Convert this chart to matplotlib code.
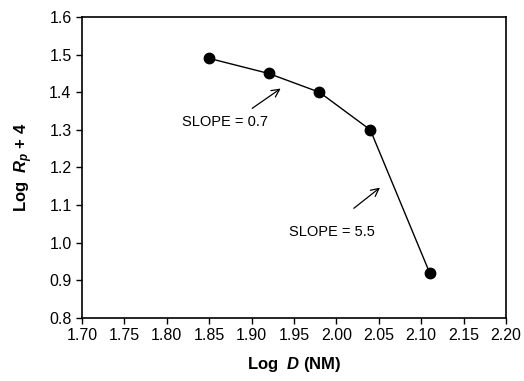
import matplotlib.pyplot as plt

plt.rcParams['font.family'] = ['Liberation Sans', 'DejaVu Sans']
plt.rcParams['mathtext.fontset'] = 'custom'
plt.rcParams['mathtext.rm'] = 'Liberation Sans:bold'
plt.rcParams['mathtext.it'] = 'Liberation Sans:italic:bold'
plt.rcParams['mathtext.bfit'] = 'Liberation Sans:italic:bold'

log_d = [1.85, 1.92, 1.98, 2.04, 2.11]
log_rp = [1.49, 1.45, 1.40, 1.30, 0.92]

x_ticks = [1.70, 1.75, 1.80, 1.85, 1.90, 1.95, 2.00, 2.05, 2.10, 2.15, 2.20]
y_ticks = [0.8, 0.9, 1.0, 1.1, 1.2, 1.3, 1.4, 1.5, 1.6]

fig = plt.figure(figsize=(5.24, 3.81), dpi=100)
ax = fig.add_axes([0.1565, 0.1654, 0.8091, 0.79])

ax.plot(log_d, log_rp, color='black', lw=1, marker='o', markersize=7.5)

ax.set_xlim(1.70, 2.20)
ax.set_ylim(0.8, 1.6)
ax.set_xticks(x_ticks)
ax.set_xticklabels([f'{v:.2f}' for v in x_ticks])
ax.set_yticks(y_ticks)
ax.set_yticklabels([f'{v:.1f}' for v in y_ticks])
ax.tick_params(direction='out', length=4, width=1, labelsize=11.5)
for s in ax.spines.values():
    s.set_linewidth(1.2)

ax.set_xlabel(r'Log  $\mathit{D}$ (NM)', fontsize=12, fontweight='bold', labelpad=8)
ax.set_ylabel(r'Log  $\mathit{R_p}$ + 4', fontsize=12, fontweight='bold', labelpad=10)

arrow = dict(arrowstyle='->', color='black', lw=0.9, mutation_scale=14)
ax.annotate('', xy=(1.937, 1.414), xytext=(1.898, 1.353), arrowprops=arrow)
ax.annotate('', xy=(2.054, 1.151), xytext=(2.018, 1.087), arrowprops=arrow)
ax.text(1.869, 1.321, 'SLOPE = 0.7', fontsize=10.5, ha='center', va='center')
ax.text(1.995, 1.029, 'SLOPE = 5.5', fontsize=10.5, ha='center', va='center')

fig.savefig('out.png', dpi=100)
